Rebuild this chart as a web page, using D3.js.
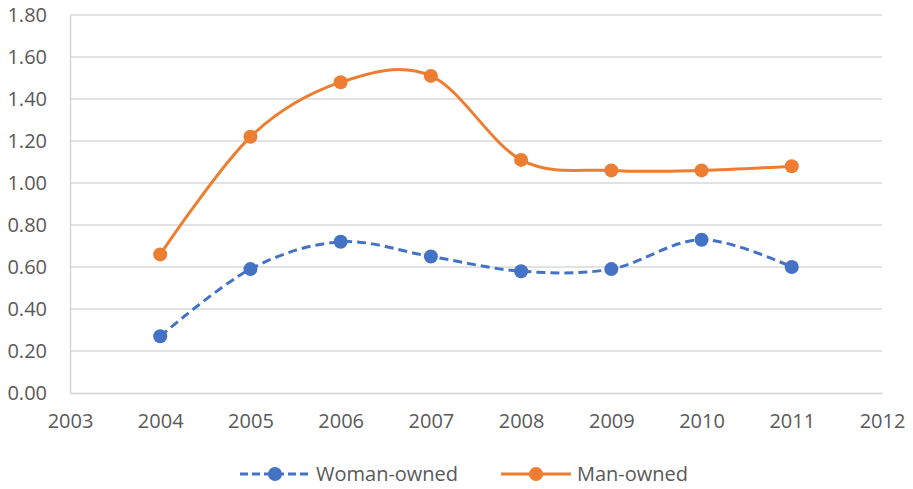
<!DOCTYPE html>
<html>
<head>
<meta charset="utf-8">
<script src="https://cdn.jsdelivr.net/npm/d3@7"></script>
<style>
  body { margin: 0; background: #fff; }
  text { font-family: "Open Sans", "Noto Sans", sans-serif; fill: #595959; }
</style>
</head>
<body>
<svg id="chart"></svg>
<script>
const years = [2004, 2005, 2006, 2007, 2008, 2009, 2010, 2011];
const womanOwned = [0.27, 0.59, 0.72, 0.65, 0.58, 0.59, 0.73, 0.60];
const manOwned = [0.66, 1.22, 1.48, 1.51, 1.11, 1.06, 1.06, 1.08];
const xTicks = d3.range(2003, 2013);
const yTicks = d3.range(0, 1.81, 0.2);

const width = 913, height = 489;
const marginLeft = 70, marginRight = 31, marginTop = 15, marginBottom = 96;
const fontSize = 20;

const svg = d3.select("#chart")
    .attr("width", width)
    .attr("height", height)
    .attr("viewBox", [0, 0, width, height]);

const x = d3.scaleLinear([2003, 2012], [marginLeft, width - marginRight]);
const y = d3.scaleLinear([0, 1.8], [height - marginBottom, marginTop]);

// horizontal gridlines
svg.append("g")
  .selectAll("line")
  .data(yTicks.slice(1))
  .join("line")
    .attr("x1", marginLeft)
    .attr("x2", width - marginRight)
    .attr("y1", d => y(d))
    .attr("y2", d => y(d))
    .attr("stroke", "#d9d9d9")
    .attr("stroke-width", 1.3);

// y axis
svg.append("g")
    .attr("transform", `translate(${marginLeft},0)`)
    .call(d3.axisLeft(y).tickValues(yTicks).tickFormat(d3.format(".2f")).tickSize(0).tickPadding(23))
    .call(g => g.select(".domain").attr("stroke", "#d0d0d0").attr("stroke-width", 1.3))
    .call(g => g.selectAll(".tick text").attr("font-size", fontSize).attr("font-family", null));

// x axis
svg.append("g")
    .attr("transform", `translate(0,${height - marginBottom})`)
    .call(d3.axisBottom(x).tickValues(xTicks).tickFormat(d3.format("d")).tickSize(0).tickPadding(21))
    .call(g => g.select(".domain").attr("stroke", "#d0d0d0").attr("stroke-width", 1.3))
    .call(g => g.selectAll(".tick text").attr("font-size", fontSize).attr("font-family", null));

const series = [
  {name: "Woman-owned", values: womanOwned, color: "#4472c4", dash: "9,5"},
  {name: "Man-owned", values: manOwned, color: "#ed7d31", dash: null}
];

const line = d3.line()
    .x(d => x(d[0]))
    .y(d => y(d[1]))
    .curve(d3.curveCardinal.tension(0));

for (const s of series) {
  const pts = years.map((yr, i) => [yr, s.values[i]]);
  svg.append("path")
      .datum(pts)
      .attr("d", line)
      .attr("fill", "none")
      .attr("stroke", s.color)
      .attr("stroke-width", 3)
      .attr("stroke-dasharray", s.dash);
  svg.append("g")
    .selectAll("circle")
    .data(pts)
    .join("circle")
      .attr("cx", d => x(d[0]))
      .attr("cy", d => y(d[1]))
      .attr("r", 7)
      .attr("fill", s.color);
}

// legend
const legendY = 474;
const legendX = [240, 501];
series.forEach((s, i) => {
  const g = svg.append("g").attr("transform", `translate(${legendX[i]},${legendY})`);
  g.append("line")
      .attr("x1", 0).attr("x2", 70)
      .attr("stroke", s.color)
      .attr("stroke-width", 3)
      .attr("stroke-dasharray", s.dash ? "8,4" : null);
  g.append("circle").attr("cx", 35).attr("r", 7).attr("fill", s.color);
  g.append("text")
      .attr("x", 76)
      .attr("dy", "0.35em")
      .attr("font-size", fontSize)
      .text(s.name);
});
</script>
</body>
</html>
